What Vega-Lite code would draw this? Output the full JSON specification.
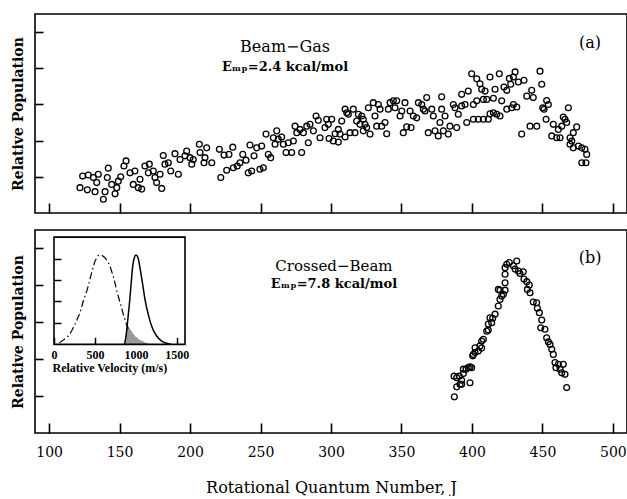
{
  "$schema": "https://vega.github.io/schema/vega-lite/v6.json",
  "padding": {"left": 10, "top": 13, "right": 0, "bottom": 0},
  "background": "white",
  "spacing": 14,
  "config": {
    "view": {"stroke": "black", "strokeWidth": 1.6},
    "axis": {"grid": false, "domain": false, "tickColor": "black", "labelColor": "black", "titleColor": "black", "labelFont": "DejaVu Serif", "titleFont": "DejaVu Serif"},
    "text": {"font": "DejaVu Serif", "color": "black"}
  },
  "datasets": {
    "top": [
      {"J":121.9,"rel":0.70},{"J":123.8,"rel":1.02},{"J":127.1,"rel":0.64},{"J":127.8,"rel":1.05},{"J":132.6,"rel":0.59},{"J":131.4,"rel":0.98},{"J":134.9,"rel":1.07},{"J":133.8,"rel":0.84},{"J":138.5,"rel":0.38},{"J":139.7,"rel":0.59},
      {"J":142.0,"rel":1.24},{"J":141.3,"rel":0.98},{"J":144.4,"rel":0.79},{"J":146.8,"rel":0.53},{"J":148.0,"rel":0.70},{"J":149.1,"rel":0.88},{"J":150.8,"rel":1.00},{"J":153.1,"rel":1.30},{"J":154.6,"rel":1.44},{"J":157.4,"rel":1.11},
      {"J":160.9,"rel":1.16},{"J":159.7,"rel":0.79},{"J":163.3,"rel":0.70},{"J":165.7,"rel":0.66},{"J":164.5,"rel":0.93},{"J":168.0,"rel":1.30},{"J":171.1,"rel":1.35},{"J":170.4,"rel":1.11},{"J":173.9,"rel":1.16},{"J":175.1,"rel":0.98},
      {"J":176.3,"rel":0.84},{"J":179.9,"rel":0.68},{"J":178.7,"rel":1.07},{"J":181.0,"rel":1.59},{"J":182.2,"rel":1.35},{"J":184.6,"rel":1.39},{"J":186.3,"rel":1.16},{"J":189.3,"rel":1.64},{"J":191.7,"rel":1.07},{"J":192.9,"rel":1.48},
      {"J":196.4,"rel":1.58},{"J":197.6,"rel":1.71},{"J":200.0,"rel":1.53},{"J":201.2,"rel":1.35},{"J":202.3,"rel":1.48},{"J":206.6,"rel":1.90},{"J":207.1,"rel":1.67},{"J":209.9,"rel":1.39},{"J":211.8,"rel":1.80},{"J":210.6,"rel":1.53},
      {"J":215.4,"rel":1.39},{"J":220.8,"rel":1.76},{"J":221.8,"rel":0.98},{"J":224.1,"rel":1.60},{"J":226.0,"rel":1.18},{"J":227.6,"rel":1.62},{"J":230.3,"rel":1.82},{"J":230.7,"rel":1.25},{"J":233.5,"rel":1.30},{"J":235.4,"rel":1.39},
      {"J":237.4,"rel":1.62},{"J":239.7,"rel":1.46},{"J":241.3,"rel":1.11},{"J":242.5,"rel":1.88},{"J":243.7,"rel":1.16},{"J":247.3,"rel":1.80},{"J":245.4,"rel":1.58},{"J":249.6,"rel":1.21},{"J":252.0,"rel":1.25},{"J":250.8,"rel":1.85},
      {"J":253.9,"rel":2.18},{"J":255.5,"rel":1.62},{"J":257.2,"rel":1.53},{"J":259.1,"rel":2.08},{"J":261.5,"rel":2.27},{"J":260.3,"rel":1.90},{"J":262.6,"rel":2.04},{"J":265.0,"rel":2.10},{"J":266.2,"rel":1.90},{"J":268.1,"rel":1.67},
      {"J":269.7,"rel":1.94},{"J":272.1,"rel":1.67},{"J":273.3,"rel":1.99},{"J":274.5,"rel":2.40},{"J":275.7,"rel":2.22},{"J":278.0,"rel":2.31},{"J":279.2,"rel":1.67},{"J":280.4,"rel":2.22},{"J":282.8,"rel":2.40},{"J":283.9,"rel":1.94},
      {"J":285.1,"rel":2.45},{"J":287.5,"rel":2.27},{"J":289.4,"rel":2.68},{"J":291.0,"rel":2.56},{"J":292.2,"rel":2.08},{"J":295.7,"rel":2.36},
      {"J":296.9,"rel":2.59},{"J":300.5,"rel":2.59},{"J":298.1,"rel":2.45},{"J":298.6,"rel":2.06},{"J":301.6,"rel":1.99},{"J":305.2,"rel":1.96},{"J":302.9,"rel":2.19},{"J":305.2,"rel":2.31},{"J":307.6,"rel":2.54},{"J":306.4,"rel":2.18},
      {"J":310.0,"rel":2.87},{"J":311.2,"rel":2.77},{"J":312.3,"rel":2.73},{"J":310.0,"rel":2.10},{"J":313.5,"rel":2.22},{"J":315.8,"rel":2.87},{"J":317.0,"rel":2.22},{"J":318.2,"rel":2.54},{"J":319.4,"rel":2.73},{"J":320.6,"rel":2.45},
      {"J":321.8,"rel":2.68},{"J":322.9,"rel":2.59},{"J":324.1,"rel":2.45},{"J":325.3,"rel":2.36},{"J":322.9,"rel":2.27},{"J":326.5,"rel":2.91},{"J":327.7,"rel":2.18},{"J":330.0,"rel":3.05},{"J":331.2,"rel":2.68},{"J":332.4,"rel":2.40},
      {"J":333.6,"rel":3.00},{"J":334.8,"rel":2.87},{"J":336.0,"rel":2.40},{"J":338.3,"rel":2.50},{"J":339.5,"rel":2.19},{"J":340.7,"rel":2.87},{"J":341.9,"rel":3.05},{"J":344.2,"rel":3.10},{"J":346.6,"rel":3.10},{"J":345.4,"rel":2.91},
      {"J":349.0,"rel":2.68},{"J":350.2,"rel":2.82},{"J":352.5,"rel":3.05},{"J":351.3,"rel":2.22},{"J":353.7,"rel":2.38},{"J":356.8,"rel":2.36},{"J":356.1,"rel":2.82},{"J":358.4,"rel":2.68},{"J":360.8,"rel":2.63},{"J":362.0,"rel":3.05},
      {"J":364.4,"rel":3.00},{"J":365.5,"rel":2.87},{"J":367.9,"rel":3.19},{"J":366.7,"rel":2.82},{"J":369.0,"rel":2.22},{"J":371.5,"rel":2.87},{"J":372.6,"rel":2.68},{"J":373.8,"rel":2.27},{"J":376.1,"rel":2.13},{"J":377.3,"rel":2.50},
      {"J":378.5,"rel":2.87},{"J":378.5,"rel":3.21},{"J":379.7,"rel":2.27},{"J":380.9,"rel":2.68},{"J":383.2,"rel":2.18},{"J":384.4,"rel":2.40},{"J":386.8,"rel":3.00},{"J":388.0,"rel":2.91},{"J":389.2,"rel":2.36},{"J":390.3,"rel":2.73},
      {"J":392.7,"rel":3.28},{"J":392.7,"rel":2.96},{"J":395.1,"rel":3.00},{"J":396.3,"rel":2.50},{"J":397.4,"rel":3.37},
      {"J":399.8,"rel":3.85},{"J":403.4,"rel":3.71},{"J":405.7,"rel":3.57},{"J":406.9,"rel":3.42},{"J":409.3,"rel":3.37},{"J":412.8,"rel":3.76},{"J":419.4,"rel":3.85},{"J":422.7,"rel":3.48},{"J":426.5,"rel":3.72},{"J":430.6,"rel":3.90},
      {"J":429.4,"rel":3.76},{"J":432.9,"rel":3.62},{"J":436.9,"rel":3.67},{"J":427.5,"rel":3.56},{"J":424.7,"rel":3.39},{"J":416.4,"rel":3.42},{"J":415.2,"rel":3.17},{"J":410.5,"rel":3.14},{"J":408.1,"rel":3.14},{"J":403.4,"rel":3.10},
      {"J":401.0,"rel":3.00},{"J":401.0,"rel":2.59},{"J":404.5,"rel":2.59},{"J":408.1,"rel":2.59},{"J":411.6,"rel":2.59},{"J":412.8,"rel":2.74},{"J":415.2,"rel":2.77},{"J":417.6,"rel":2.73},{"J":419.9,"rel":2.68},{"J":421.1,"rel":3.10},
      {"J":424.7,"rel":2.87},{"J":428.2,"rel":2.91},{"J":429.4,"rel":3.00},{"J":431.8,"rel":2.93},{"J":435.3,"rel":2.18},{"J":441.2,"rel":2.40},{"J":446.0,"rel":2.40},{"J":438.9,"rel":3.23},{"J":442.4,"rel":3.39},{"J":443.5,"rel":3.19},
      {"J":448.3,"rel":3.92},{"J":449.5,"rel":3.56},{"J":450.2,"rel":2.91},{"J":451.1,"rel":2.87},{"J":453.0,"rel":3.11},{"J":454.2,"rel":3.00},{"J":452.6,"rel":2.59},{"J":456.6,"rel":2.13},{"J":457.7,"rel":2.45},{"J":460.1,"rel":2.08},
      {"J":461.3,"rel":2.31},{"J":463.7,"rel":2.40},{"J":464.8,"rel":2.65},{"J":466.0,"rel":2.59},{"J":467.2,"rel":2.50},{"J":468.4,"rel":2.91},{"J":462.5,"rel":2.08},{"J":469.6,"rel":2.08},{"J":471.9,"rel":2.22},{"J":474.3,"rel":2.38},
      {"J":469.6,"rel":1.90},{"J":471.9,"rel":1.80},{"J":475.5,"rel":1.85},{"J":477.9,"rel":1.80},{"J":480.2,"rel":1.76},{"J":481.4,"rel":1.62},{"J":477.9,"rel":1.39},{"J":480.9,"rel":1.39},{"J":470.8,"rel":1.99}
    ],
    "bottom": [
      {"J":387.5,"rel":0.98},{"J":389.2,"rel":1.25},{"J":387.3,"rel":1.54},{"J":391.0,"rel":1.54},{"J":393.9,"rel":1.61},{"J":395.8,"rel":1.73},{"J":392.7,"rel":1.43},{"J":391.5,"rel":1.32},{"J":398.6,"rel":1.36},{"J":397.4,"rel":1.77},
      {"J":399.8,"rel":1.77},{"J":400.5,"rel":2.09},{"J":402.2,"rel":2.18},{"J":404.5,"rel":2.22},{"J":406.9,"rel":2.30},{"J":405.7,"rel":2.36},{"J":408.1,"rel":2.54},{"J":411.6,"rel":2.79},{"J":414.0,"rel":2.99},{"J":412.8,"rel":3.12},
      {"J":414.7,"rel":3.11},{"J":416.4,"rel":3.22},{"J":418.7,"rel":3.44},{"J":419.9,"rel":3.62},{"J":421.1,"rel":3.71},{"J":419.9,"rel":3.87},{"J":423.5,"rel":3.87},{"J":423.5,"rel":4.07},{"J":423.5,"rel":4.48},{"J":424.7,"rel":4.57},
      {"J":426.5,"rel":4.62},{"J":429.4,"rel":4.53},{"J":431.8,"rel":4.66},{"J":432.9,"rel":4.39},{"J":430.6,"rel":4.44},{"J":434.1,"rel":4.32},{"J":436.4,"rel":4.37},{"J":436.9,"rel":4.17},{"J":438.9,"rel":4.10},{"J":440.7,"rel":4.01},
      {"J":439.3,"rel":3.89},{"J":441.2,"rel":3.80},{"J":443.5,"rel":3.55},{"J":445.9,"rel":3.53},{"J":446.4,"rel":3.38},{"J":447.8,"rel":3.26},{"J":449.5,"rel":3.06},{"J":448.8,"rel":2.85},{"J":451.8,"rel":2.81},{"J":453.0,"rel":2.58},
      {"J":454.2,"rel":2.47},{"J":455.4,"rel":2.40},{"J":456.6,"rel":2.27},{"J":457.7,"rel":2.13},{"J":458.9,"rel":1.91},{"J":459.6,"rel":1.77},{"J":461.3,"rel":1.86},{"J":462.5,"rel":1.73},{"J":464.8,"rel":1.86},{"J":466.0,"rel":1.59},
      {"J":463.7,"rel":1.63},{"J":467.2,"rel":1.23},{"J":389.2,"rel":1.50},{"J":393.9,"rel":1.73},{"J":398.6,"rel":1.79},{"J":392.7,"rel":1.32},{"J":401.0,"rel":2.13},{"J":402.2,"rel":2.31},{"J":406.9,"rel":2.49},{"J":410.5,"rel":2.76},
      {"J":411.6,"rel":2.95},{"J":418.7,"rel":3.89},{"J":422.3,"rel":3.76},{"J":423.5,"rel":4.30}
    ],
    "dashdot": [
      {"v":65,"y":0.07},{"v":120,"y":0.22},{"v":175,"y":0.39},{"v":215,"y":0.62},{"v":256,"y":0.93},{"v":317,"y":1.47},{"v":358,"y":2.02},{"v":407,"y":2.56},{"v":460,"y":3.34},{"v":500,"y":3.88},
      {"v":541,"y":4.15},{"v":582,"y":4.16},{"v":623,"y":4.04},{"v":675,"y":3.73},{"v":724,"y":3.18},{"v":773,"y":2.40},{"v":814,"y":1.86},{"v":846,"y":1.40},{"v":879,"y":1.01},{"v":905,"y":0.72}
    ],
    "solid": [
      {"v":860,"y":0},{"v":880,"y":0.4},{"v":900,"y":1.1},{"v":920,"y":1.86},{"v":940,"y":2.72},{"v":961,"y":3.65},{"v":981,"y":4.04},{"v":1001,"y":4.16},{"v":1026,"y":4.04},{"v":1050,"y":3.57},
      {"v":1083,"y":2.80},{"v":1111,"y":2.10},{"v":1151,"y":1.40},{"v":1193,"y":0.85},{"v":1254,"y":0.39},{"v":1315,"y":0.15},{"v":1376,"y":0.05},{"v":1430,"y":0.0}
    ],
    "shade": [
      {"v":868,"y":0},{"v":880,"y":0.45},{"v":895,"y":0.93},{"v":910,"y":0.85},{"v":930,"y":0.72},{"v":950,"y":0.6},{"v":975,"y":0.46},{"v":1000,"y":0.34},{"v":1030,"y":0.25},{"v":1060,"y":0.19},
      {"v":1090,"y":0.14},{"v":1120,"y":0.08},{"v":1150,"y":0.04},{"v":1180,"y":0}
    ]
  },
  "vconcat": [
    {
      "width": 592,
      "height": 199,
      "layer": [
        {
          "data": {"name": "top"},
          "mark": {"type": "point", "shape": "circle", "filled": false, "color": "black", "size": 34, "strokeWidth": 1.3, "opacity": 1},
          "encoding": {
            "x": {"field": "J", "type": "quantitative", "scale": {"domain": [90, 510], "nice": false, "zero": false},
              "axis": {"values": [100, 150, 200, 250, 300, 350, 400, 450, 500], "labels": false, "tickSize": -10, "tickWidth": 1.6, "title": null}},
            "y": {"field": "rel", "type": "quantitative", "scale": {"domain": [0, 5.5], "nice": false},
              "axis": {"values": [1, 2, 3, 4, 5], "labels": false, "tickSize": -8, "tickWidth": 1.6, "title": "Relative Population", "titleFontSize": 14, "titleFontWeight": "bold", "titlePadding": 9}}
          }
        },
        {"data": {"values": [{}]}, "mark": {"type": "text", "text": "Beam−Gas", "fontSize": 16, "align": "center", "baseline": "middle"},
          "encoding": {"x": {"datum": 267.4}, "y": {"datum": 4.58}}},
        {"data": {"values": [{}]}, "mark": {"type": "text", "text": "Eₘₚ=2.4 kcal/mol", "fontSize": 13, "fontWeight": "bold", "align": "center", "baseline": "middle"},
          "encoding": {"x": {"datum": 267.4}, "y": {"datum": 4.04}}},
        {"data": {"values": [{}]}, "mark": {"type": "text", "text": "(a)", "fontSize": 16, "align": "center", "baseline": "middle"},
          "encoding": {"x": {"datum": 483.8}, "y": {"datum": 4.71}}}
      ]
    },
    {
      "width": 592,
      "height": 203,
      "layer": [
        {
          "layer": [
            {
              "data": {"name": "bottom"},
              "mark": {"type": "point", "shape": "circle", "filled": false, "color": "black", "size": 34, "strokeWidth": 1.3, "opacity": 1},
              "encoding": {
                "x": {"field": "J", "type": "quantitative", "scale": {"domain": [90, 510], "nice": false, "zero": false},
                  "axis": {"orient": "bottom", "values": [100, 150, 200, 250, 300, 350, 400, 450, 500], "tickSize": -10, "tickWidth": 1.6, "labelFontSize": 14, "labelPadding": 22, "title": "Rotational Quantum Number, J", "titleFontSize": 16, "titleFontWeight": "normal", "titlePadding": 20}},
                "y": {"field": "rel", "type": "quantitative", "scale": {"domain": [0, 5.5], "nice": false},
                  "axis": {"orient": "left", "values": [1, 2, 3, 4, 5], "labels": false, "tickSize": -8, "tickWidth": 1.6, "title": "Relative Population", "titleFontSize": 14, "titleFontWeight": "bold", "titlePadding": 9}}
              }
            },
            {"data": {"values": [{}]}, "mark": {"type": "text", "text": "Crossed−Beam", "fontSize": 15, "align": "center", "baseline": "middle"},
              "encoding": {"x": {"datum": 302.1}, "y": {"datum": 4.52}}},
            {"data": {"values": [{}]}, "mark": {"type": "text", "text": "Eₘₚ=7.8 kcal/mol", "fontSize": 13, "fontWeight": "bold", "align": "center", "baseline": "middle"},
              "encoding": {"x": {"datum": 302.1}, "y": {"datum": 4.05}}},
            {"data": {"values": [{}]}, "mark": {"type": "text", "text": "(b)", "fontSize": 16, "align": "center", "baseline": "middle"},
              "encoding": {"x": {"datum": 483.8}, "y": {"datum": 4.75}}}
          ]
        },
        {
          "layer": [
            {
              "data": {"name": "shade"},
              "mark": {"type": "area", "color": "#9a9a9a", "opacity": 1},
              "encoding": {
                "x": {"field": "v", "type": "quantitative", "scale": {"domain": [-232, 6998], "nice": false, "zero": false},
                  "axis": {"orient": "bottom", "offset": -88.7, "values": [0, 500, 1000, 1500], "format": "d", "tickSize": -7, "tickWidth": 1.5, "labelFont": "Liberation Serif", "labelFontWeight": "bold", "labelFontSize": 12, "labelPadding": 12, "labelFlush": false,
                    "title": "Relative Velocity (m/s)", "titleFont": "Liberation Serif", "titleFontWeight": "bold", "titleFontSize": 12, "titleAnchor": "start", "titleAlign": "left", "titleX": 17, "titlePadding": 2}},
                "y": {"field": "y", "type": "quantitative", "scale": {"domain": [-4.13, 5.33], "nice": false, "zero": false},
                  "axis": {"orient": "left", "offset": -19, "values": [1, 2, 3, 4], "labels": false, "tickSize": -7, "tickWidth": 1.5, "title": null}},
                "y2": {"datum": 0}
              }
            },
            {
              "data": {"name": "dashdot"},
              "mark": {"type": "line", "color": "black", "strokeWidth": 1.2, "strokeDash": [7, 3, 1.5, 3]},
              "encoding": {"x": {"field": "v", "type": "quantitative"}, "y": {"field": "y", "type": "quantitative"}}
            },
            {
              "data": {"name": "solid"},
              "mark": {"type": "line", "color": "black", "strokeWidth": 1.5, "interpolate": "monotone"},
              "encoding": {"x": {"field": "v", "type": "quantitative"}, "y": {"field": "y", "type": "quantitative"}}
            },
            {
              "data": {"values": [{}]},
              "mark": {"type": "rect", "fill": "white", "fillOpacity": 0, "stroke": "black", "strokeWidth": 1.6},
              "encoding": {"x": {"datum": 0}, "x2": {"datum": 1600}, "y": {"datum": 0}, "y2": {"datum": 5}}
            }
          ]
        }
      ],
      "resolve": {"scale": {"x": "independent", "y": "independent"}, "axis": {"x": "independent", "y": "independent"}}
    }
  ]
}
